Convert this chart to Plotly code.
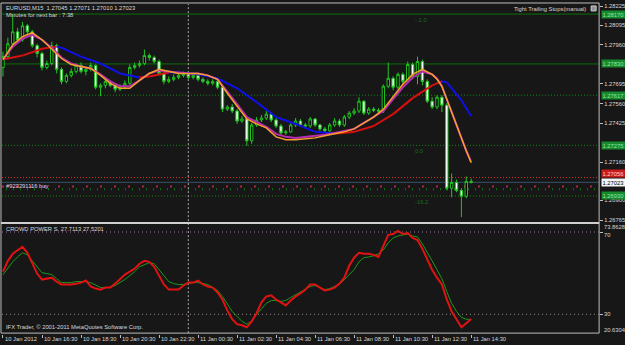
import plotly.graph_objects as go

W, H = 625, 345

# ---------------- data ----------------
# 15-minute bars, index 0 = 10 Jan 14:30 ... index 96 = 11 Jan 14:30
bars = list(range(97))

opens = [
    1.27806, 1.27880, 1.27968, 1.28049, 1.27995, 1.28090, 1.28049, 1.27955, 1.27901, 1.27806,
    1.27833, 1.27955, 1.27793, 1.27711, 1.27752, 1.27779, 1.27820, 1.27779, 1.27793, 1.27820,
    1.27671, 1.27684, 1.27711, 1.27684, 1.27657, 1.27671, 1.27698, 1.27806, 1.27820, 1.27833,
    1.27887, 1.27874, 1.27847, 1.27765, 1.27711, 1.27725, 1.27738, 1.27752, 1.27765, 1.27738,
    1.27752, 1.27725, 1.27711, 1.27698, 1.27711, 1.27671, 1.27522, 1.27536, 1.27509, 1.27441,
    1.27455, 1.27306, 1.27414, 1.27448, 1.27461, 1.27488, 1.27448, 1.27407, 1.27360, 1.27367,
    1.27414, 1.27441, 1.27414, 1.27407, 1.27455, 1.27414, 1.27387, 1.27374, 1.27414, 1.27441,
    1.27414, 1.27468, 1.27495, 1.27509, 1.27576, 1.27495, 1.27522, 1.27515, 1.27509, 1.27678,
    1.27732, 1.27671, 1.27759, 1.27711, 1.27826, 1.27745, 1.27847, 1.27711, 1.27576, 1.27536,
    1.27603, 1.27549, 1.26982, 1.27022, 1.26968, 1.26928, 1.27029]
highs = [
    1.27914, 1.28009, 1.28164, 1.28076, 1.28117, 1.28103, 1.28063, 1.27968, 1.27914, 1.27853,
    1.27982, 1.27968, 1.27806, 1.27765, 1.27799, 1.27833, 1.27840, 1.27806, 1.27840, 1.27826,
    1.27698, 1.27732, 1.27718, 1.27698, 1.27691, 1.27718, 1.27826, 1.27840, 1.27853, 1.27928,
    1.27901, 1.27887, 1.27860, 1.27779, 1.27745, 1.27759, 1.27765, 1.27779, 1.27779, 1.27772,
    1.27765, 1.27738, 1.27725, 1.27725, 1.27725, 1.27684, 1.27549, 1.27556, 1.27522, 1.27475,
    1.27468, 1.27428, 1.27468, 1.27482, 1.27509, 1.27502, 1.27461, 1.27421, 1.27380, 1.27434,
    1.27461, 1.27455, 1.27428, 1.27468, 1.27461, 1.27421, 1.27401, 1.27428, 1.27461, 1.27455,
    1.27482, 1.27509, 1.27529, 1.27603, 1.27583, 1.27536, 1.27536, 1.27529, 1.27691, 1.27840,
    1.27745, 1.27772, 1.27772, 1.27847, 1.27840, 1.27880, 1.27860, 1.27725, 1.27603, 1.27617,
    1.27617, 1.27563, 1.27083, 1.27042, 1.26982, 1.27063, 1.27049]
lows = [
    1.27745, 1.27867, 1.27955, 1.27975, 1.27982, 1.28029, 1.27941, 1.27874, 1.27786, 1.27793,
    1.27820, 1.27765, 1.27691, 1.27698, 1.27738, 1.27765, 1.27765, 1.27752, 1.27779, 1.27657,
    1.27610, 1.27664, 1.27671, 1.27637, 1.27644, 1.27657, 1.27684, 1.27793, 1.27806, 1.27820,
    1.27853, 1.27833, 1.27752, 1.27691, 1.27698, 1.27711, 1.27725, 1.27738, 1.27725, 1.27725,
    1.27711, 1.27698, 1.27684, 1.27684, 1.27657, 1.27502, 1.27509, 1.27495, 1.27421, 1.27428,
    1.27272, 1.27286, 1.27401, 1.27434, 1.27448, 1.27434, 1.27394, 1.27347, 1.27347, 1.27360,
    1.27401, 1.27401, 1.27394, 1.27394, 1.27401, 1.27374, 1.27360, 1.27367, 1.27401, 1.27401,
    1.27401, 1.27455, 1.27482, 1.27495, 1.27482, 1.27482, 1.27502, 1.27495, 1.27495, 1.27664,
    1.27651, 1.27657, 1.27691, 1.27698, 1.27725, 1.27691, 1.27684, 1.27563, 1.27522, 1.27522,
    1.27502, 1.26968, 1.26921, 1.26955, 1.26786, 1.26914, 1.27015]
closes = [
    1.27880, 1.27968, 1.28049, 1.27995, 1.28090, 1.28049, 1.27955, 1.27901, 1.27806, 1.27833,
    1.27955, 1.27793, 1.27711, 1.27752, 1.27779, 1.27820, 1.27779, 1.27793, 1.27820, 1.27671,
    1.27684, 1.27711, 1.27684, 1.27657, 1.27671, 1.27698, 1.27806, 1.27820, 1.27833, 1.27887,
    1.27874, 1.27847, 1.27765, 1.27711, 1.27725, 1.27738, 1.27752, 1.27765, 1.27738, 1.27752,
    1.27725, 1.27711, 1.27698, 1.27711, 1.27671, 1.27522, 1.27536, 1.27509, 1.27441, 1.27455,
    1.27306, 1.27414, 1.27448, 1.27461, 1.27488, 1.27448, 1.27407, 1.27360, 1.27367, 1.27414,
    1.27441, 1.27414, 1.27407, 1.27455, 1.27414, 1.27387, 1.27374, 1.27414, 1.27441, 1.27414,
    1.27468, 1.27495, 1.27509, 1.27576, 1.27495, 1.27522, 1.27515, 1.27509, 1.27678, 1.27732,
    1.27671, 1.27759, 1.27711, 1.27826, 1.27745, 1.27847, 1.27711, 1.27576, 1.27536, 1.27603,
    1.27549, 1.26982, 1.27022, 1.26968, 1.26928, 1.27029, 1.27023]

# slow moving average (red rising / blue falling)
slow_ma_bars = [0, 4, 8, 11, 12, 16, 20, 24, 28, 30, 34, 37, 40, 44, 48, 52, 56, 60, 64, 68,
                70, 72, 76, 80, 84, 88, 90, 91, 92, 94, 96]
slow_ma = [1.27860, 1.27887, 1.27934, 1.27948, 1.27941, 1.27880, 1.27833, 1.27765, 1.27738, 1.27745,
           1.27772, 1.27770, 1.27759, 1.27732, 1.27664, 1.27570, 1.27468, 1.27421, 1.27367, 1.27355,
           1.27360, 1.27367, 1.27407, 1.27488, 1.27597, 1.27684, 1.27711, 1.27705, 1.27664, 1.27583,
           1.27475]

# fast moving averages (orange and purple)
fast_ma_bars = [0, 1, 2, 4, 6, 8, 10, 12, 14, 16, 18, 20, 22, 24, 26, 28, 30, 32, 34, 36, 38, 40,
                42, 44, 46, 48, 50, 52, 54, 56, 58, 60, 62, 64, 66, 68, 70, 72, 74, 76, 78, 80, 82,
                84, 86, 88, 89, 90, 91, 92, 93, 94, 95, 96]
fast_ma_orange = [
    1.27860, 1.27914, 1.27961, 1.28016, 1.28043, 1.27995, 1.27934, 1.27867, 1.27826, 1.27813,
    1.27799, 1.27752, 1.27698, 1.27664, 1.27664, 1.27718, 1.27765, 1.27793, 1.27779, 1.27765,
    1.27765, 1.27765, 1.27752, 1.27725, 1.27630, 1.27543, 1.27455, 1.27421, 1.27394, 1.27333,
    1.27313, 1.27313, 1.27320, 1.27326, 1.27340, 1.27353, 1.27367, 1.27387, 1.27428, 1.27468,
    1.27522, 1.27610, 1.27691, 1.27759, 1.27793, 1.27759, 1.27725, 1.27678, 1.27590, 1.27495,
    1.27407, 1.27326, 1.27238, 1.27157]
fast_ma_purple = [
    1.27860, 1.27907, 1.27948, 1.28002, 1.28029, 1.27995, 1.27941, 1.27874, 1.27833, 1.27813,
    1.27799, 1.27759, 1.27711, 1.27678, 1.27678, 1.27718, 1.27765, 1.27786, 1.27779, 1.27772,
    1.27765, 1.27765, 1.27752, 1.27725, 1.27644, 1.27556, 1.27468, 1.27434, 1.27401, 1.27353,
    1.27333, 1.27326, 1.27333, 1.27340, 1.27347, 1.27360, 1.27374, 1.27387, 1.27428, 1.27468,
    1.27509, 1.27590, 1.27671, 1.27738, 1.27779, 1.27759, 1.27732, 1.27678, 1.27590, 1.27495,
    1.27407, 1.27326, 1.27238, 1.27164]

# trailing-stop / order levels on the price panel
level_solid = [1.28170, 1.27830]
level_dotted_green = [1.27617, 1.27275, 1.26930]
level_red = 1.27056
bid_price = 1.27023
level_box_values = [1.28170, 1.27830, 1.27617, 1.27275, 1.26930]
level_tags = [("- 1.0", 1.28170), ("0.0", 1.27275), ("-16.2", 1.26930)]
tag_bar = 84
order_text = "#923291116 buy"
order_price = 1.26999
marker_red_price = 1.26995
marker_green_price = 1.26975

# CROWD POWER S indicator
crowd_red = [
    50.7, 56.0, 59.4, 61.3, 62.8, 59.9, 55.1, 49.8, 46.9, 47.3,
    47.8, 45.9, 44.5, 44.5, 44.5, 44.9, 45.4, 46.4, 43.5, 42.5,
    42.0, 43.0, 43.0, 44.9, 47.3, 49.3, 50.7, 52.2, 54.6, 56.0,
    55.5, 53.1, 48.8, 44.5, 42.0, 42.0, 42.0, 44.0, 45.4, 45.4,
    46.4, 44.5, 43.5, 43.0, 40.6, 37.2, 31.9, 27.6, 25.2, 24.7,
    23.7, 26.6, 30.5, 35.8, 38.7, 39.2, 37.2, 35.8, 34.3, 36.7,
    38.7, 40.1, 42.0, 44.5, 44.5, 43.0, 41.6, 42.0, 43.0, 44.9,
    47.8, 53.6, 57.5, 59.9, 59.4, 59.4, 58.9, 57.9, 63.7, 68.6,
    69.0, 70.5, 69.0, 69.5, 67.1, 66.1, 61.8, 56.5, 51.7, 47.8,
    44.5, 37.2, 31.4, 27.6, 23.7, 25.7, 27.7113]
crowd_green = [
    49.3, 52.6, 55.5, 57.9, 59.9, 58.9, 56.0, 53.1, 50.2, 49.8,
    49.3, 47.3, 45.4, 45.4, 45.4, 45.9, 45.9, 45.9, 45.4, 44.0,
    43.0, 43.0, 43.0, 44.0, 45.4, 46.9, 48.8, 50.7, 53.1, 54.1,
    55.1, 54.6, 51.7, 48.8, 45.9, 44.9, 44.5, 44.5, 44.9, 45.4,
    45.4, 44.9, 44.5, 43.0, 41.6, 38.7, 35.3, 31.4, 29.0, 26.6,
    25.2, 26.6, 30.0, 32.9, 35.3, 36.7, 36.7, 36.3, 36.7, 38.2,
    39.6, 41.1, 42.5, 43.5, 44.0, 43.0, 42.0, 42.5, 43.5, 44.5,
    46.9, 49.3, 51.7, 55.5, 57.5, 57.9, 58.4, 59.4, 61.3, 64.7,
    67.1, 68.1, 68.6, 69.0, 68.1, 67.6, 64.2, 60.4, 56.0, 51.7,
    47.3, 41.1, 35.3, 31.4, 28.5, 27.6, 27.5201]
crowd_levels = [70, 30]
crowd_max, crowd_min = 73.8628, 20.6304

price_ticks = [1.28225, 1.28095, 1.27960, 1.27695, 1.27560, 1.27425, 1.27160, 1.26900, 1.26765]
time_labels = ["10 Jan 2012", "10 Jan 16:30", "10 Jan 18:30", "10 Jan 20:30", "10 Jan 22:30",
               "11 Jan 00:30", "11 Jan 02:30", "11 Jan 04:30", "11 Jan 06:30", "11 Jan 08:30",
               "11 Jan 10:30", "11 Jan 12:30", "11 Jan 14:30"]
time_label_bars = [0, 8, 16, 24, 32, 40, 48, 56, 64, 72, 80, 88, 96]
day_separator_bar = 38  # 11 Jan 00:00

header_text = "EURUSD,M15  1.27045 1.27071 1.27010 1.27023"
timer_text = "Minutes for next bar : 7:38"
ea_text = "Tight Trailing Stops(manual)"
ind_text = "CROWD POWER S. 27.7113 27.5201"
copyright_text = "IFX Trader, © 2001-2011 MetaQuotes Software Corp."

# ---------------- styling / layout helpers ----------------
BG = "#171717"
FG = "#d8d8d8"
FRAME = "#bdbdbd"
FONT = "Liberation Sans"
FS = 5.8
DOT = "1px,2px"


def fx(px):
    return px / W


def fy(py):
    return 1 - py / H


X_RANGE = [-0.204, 122.24]
MAIN_RANGE = [1.26752, 1.28232]

fig = go.Figure()

fig.add_trace(go.Candlestick(
    x=bars, open=opens, high=highs, low=lows, close=closes,
    increasing=dict(line=dict(color="#22c422", width=1), fillcolor="#000000"),
    decreasing=dict(line=dict(color="#22c422", width=1), fillcolor="#ffffff"),
    whiskerwidth=0, xaxis="x", yaxis="y", hoverinfo="skip", showlegend=False))

# slow MA colored by direction
red_x, red_y, blue_x, blue_y = [], [], [], []
for k in range(len(slow_ma) - 1):
    seg_x = [slow_ma_bars[k], slow_ma_bars[k + 1], None]
    seg_y = [slow_ma[k], slow_ma[k + 1], None]
    if slow_ma[k + 1] >= slow_ma[k]:
        red_x += seg_x; red_y += seg_y
    else:
        blue_x += seg_x; blue_y += seg_y
fig.add_trace(go.Scatter(x=red_x, y=red_y, mode="lines", line=dict(color="#d81010", width=2),
                         xaxis="x", yaxis="y", hoverinfo="skip", showlegend=False))
fig.add_trace(go.Scatter(x=blue_x, y=blue_y, mode="lines", line=dict(color="#1010e8", width=2),
                         xaxis="x", yaxis="y", hoverinfo="skip", showlegend=False))

fig.add_trace(go.Scatter(x=fast_ma_bars, y=fast_ma_purple, mode="lines",
                         line=dict(color="#b82cb0", width=2), xaxis="x", yaxis="y",
                         hoverinfo="skip", showlegend=False))
fig.add_trace(go.Scatter(x=fast_ma_bars, y=fast_ma_orange, mode="lines",
                         line=dict(color="#f5a02a", width=1.5), xaxis="x", yaxis="y",
                         hoverinfo="skip", showlegend=False))

# lower indicator
fig.add_trace(go.Scatter(x=bars, y=crowd_green, mode="lines", line=dict(color="#1a9a1a", width=1),
                         xaxis="x2", yaxis="y2", hoverinfo="skip", showlegend=False))
fig.add_trace(go.Scatter(x=bars, y=crowd_red, mode="lines", line=dict(color="#e01212", width=2),
                         xaxis="x2", yaxis="y2", hoverinfo="skip", showlegend=False))

shapes = []
# horizontal levels in price panel
for lv in level_solid:
    shapes.append(dict(type="line", xref="paper", yref="y", x0=fx(2), x1=fx(602), y0=lv, y1=lv,
                       line=dict(color="#0b6e0b", width=1), layer="below"))
for lv in level_dotted_green:
    shapes.append(dict(type="line", xref="paper", yref="y", x0=fx(2), x1=fx(602), y0=lv, y1=lv,
                       line=dict(color="#138a13", width=1, dash=DOT), layer="below"))
shapes.append(dict(type="line", xref="paper", yref="y", x0=fx(2), x1=fx(602), y0=level_red, y1=level_red,
                   line=dict(color="#d03030", width=1, dash=DOT), layer="below"))
shapes.append(dict(type="line", xref="paper", yref="y", x0=fx(2), x1=fx(602), y0=bid_price, y1=bid_price,
                   line=dict(color="#34506c", width=1), layer="below"))
shapes.append(dict(type="line", xref="paper", yref="y", x0=fx(2), x1=fx(602), y0=marker_red_price,
                   y1=marker_red_price, line=dict(color="#b02840", width=2, dash="2px,12px"), layer="below"))
shapes.append(dict(type="line", xref="paper", yref="y", x0=fx(6), x1=fx(602), y0=marker_green_price,
                   y1=marker_green_price, line=dict(color="#137a13", width=2, dash="1px,6px"), layer="below"))
# indicator levels
for lv, col in zip(crowd_levels, ["#9a74a4", "#9a8a8a"]):
    shapes.append(dict(type="line", xref="paper", yref="y2", x0=fx(2), x1=fx(602), y0=lv, y1=lv,
                       line=dict(color=col, width=1, dash="1px,3px"), layer="below"))
# day separator
shapes.append(dict(type="line", xref="x", yref="paper", x0=day_separator_bar, x1=day_separator_bar,
                   y0=fy(334), y1=fy(2), line=dict(color="#b0a0b0", width=1, dash="2px,2px"), layer="below"))
# frames
shapes += [
    dict(type="line", xref="paper", yref="paper", x0=fx(1), x1=fx(602), y0=fy(1), y1=fy(1),
         line=dict(color=FRAME, width=1)),
    dict(type="line", xref="paper", yref="paper", x0=fx(1), x1=fx(1), y0=fy(334), y1=fy(1),
         line=dict(color=FRAME, width=1)),
    dict(type="line", xref="paper", yref="paper", x0=fx(602), x1=fx(602), y0=fy(334), y1=fy(1),
         line=dict(color=FRAME, width=1)),
    dict(type="rect", xref="paper", yref="paper", x0=fx(1), x1=fx(602), y0=fy(224), y1=fy(222),
         line=dict(width=0), fillcolor="#cfcfcf"),
    dict(type="line", xref="paper", yref="paper", x0=fx(1), x1=fx(602), y0=fy(334), y1=fy(334),
         line=dict(color=FRAME, width=1)),
    dict(type="rect", xref="paper", yref="paper", x0=fx(594), x1=fx(599), y0=fy(9), y1=fy(4),
         line=dict(color="#d0d0d0", width=1), fillcolor="#909090"),
]

annotations = []


def txt(text, xpx, ypx, color=FG, anchor="left", size=FS):
    annotations.append(dict(text=text, xref="paper", yref="paper", x=fx(xpx), y=fy(ypx),
                            xanchor=anchor, yanchor="middle", showarrow=False,
                            font=dict(family=FONT, size=size, color=color)))


txt(header_text, 4, 6)
txt(timer_text, 4, 13)
txt(ea_text, 591, 7, anchor="right")
txt(ind_text, 4, 229)
txt(copyright_text, 4, 328)

for label, b in zip(time_labels, time_label_bars):
    annotations.append(dict(text=label, xref="x2", yref="paper", x=b, y=fy(339.5), xanchor="left",
                            yanchor="middle", xshift=0, showarrow=False,
                            font=dict(family=FONT, size=FS, color=FG)))

for label, lv in level_tags:
    annotations.append(dict(text=label, xref="x", yref="y", x=tag_bar, y=lv, xanchor="left",
                            yanchor="top", yshift=-1, showarrow=False,
                            font=dict(family=FONT, size=FS, color="#1c6e1c")))

annotations.append(dict(text=order_text, xref="paper", yref="y", x=fx(4), y=order_price, xanchor="left",
                        yanchor="middle", showarrow=False,
                        font=dict(family=FONT, size=FS, color="#e8d0e8")))

# right-axis price boxes
for lv in level_box_values:
    annotations.append(dict(text=f"{lv:.5f}", xref="paper", yref="y", x=fx(603.5), y=lv,
                            xanchor="left", yanchor="middle", showarrow=False, bgcolor="#178a2f",
                            borderpad=0.5, width=24, align="left",
                            font=dict(family=FONT, size=FS, color="#8ee6a0")))
annotations.append(dict(text=f"{level_red:.5f}", xref="paper", yref="y", x=fx(603.5), y=level_red,
                        xanchor="left", yanchor="middle", yshift=4, showarrow=False, bgcolor="#c81c1c",
                        borderpad=0.5, width=24, align="left",
                        font=dict(family=FONT, size=FS, color="#ffd0d0")))
annotations.append(dict(text=f"{bid_price:.5f}", xref="paper", yref="y", x=fx(603.5), y=bid_price,
                        xanchor="left", yanchor="middle", showarrow=False, bgcolor="#f4f4f4",
                        borderpad=0.5, width=24, align="left",
                        font=dict(family=FONT, size=FS, color="#000000")))
# indicator scale labels
annotations.append(dict(text=f"{crowd_max:.4f}", xref="paper", yref="paper", x=fx(605), y=fy(226.5),
                        xanchor="left", yanchor="middle", showarrow=False,
                        font=dict(family=FONT, size=FS, color=FG)))
annotations.append(dict(text=str(crowd_levels[0]), xref="paper", yref="y2", x=fx(605), y=crowd_levels[0],
                        xanchor="left", yanchor="top", yshift=2, showarrow=False,
                        font=dict(family=FONT, size=FS, color=FG)))
annotations.append(dict(text=str(crowd_levels[1]), xref="paper", yref="y2", x=fx(605), y=crowd_levels[1],
                        xanchor="left", yanchor="middle", showarrow=False,
                        font=dict(family=FONT, size=FS, color=FG)))
annotations.append(dict(text=f"{crowd_min:.4f}", xref="paper", yref="paper", x=fx(605), y=fy(331),
                        xanchor="left", yanchor="middle", showarrow=False,
                        font=dict(family=FONT, size=FS, color=FG)))

axis_common = dict(showgrid=False, zeroline=False)

fig.update_layout(
    width=W, height=H, autosize=False,
    margin=dict(l=0, r=0, t=0, b=0, pad=0),
    paper_bgcolor=BG, plot_bgcolor=BG,
    showlegend=False, hovermode=False,
    font=dict(family=FONT, size=FS, color=FG),
    xaxis=dict(domain=[fx(2), fx(602)], range=X_RANGE, anchor="y", showticklabels=False,
               ticks="", rangeslider=dict(visible=False), showline=False, **axis_common),
    xaxis2=dict(domain=[fx(2), fx(602)], range=X_RANGE, anchor="y2", matches="x",
                tickvals=time_label_bars, ticktext=[""] * len(time_label_bars),
                ticks="outside", ticklen=3, tickcolor=FRAME, tickwidth=1, showline=False,
                rangeslider=dict(visible=False), **axis_common),
    yaxis=dict(domain=[fy(222), fy(3)], range=MAIN_RANGE, anchor="x", side="right",
               tickvals=price_ticks, ticktext=[f"{v:.5f}" for v in price_ticks],
               ticks="outside", ticklen=3, tickcolor=FRAME, tickwidth=1,
               tickfont=dict(family=FONT, size=FS, color=FG), showline=False, **axis_common),
    yaxis2=dict(domain=[fy(334.5), fy(224)], range=[crowd_min, crowd_max], anchor="x2", side="right",
                tickvals=crowd_levels, ticktext=["", ""],
                ticks="outside", ticklen=3, tickcolor=FRAME, tickwidth=1,
                tickfont=dict(family=FONT, size=FS, color=FG), showline=False, **axis_common),
    shapes=shapes,
    annotations=annotations,
)

fig.write_html("out.html", config={"displayModeBar": False, "staticPlot": True})
